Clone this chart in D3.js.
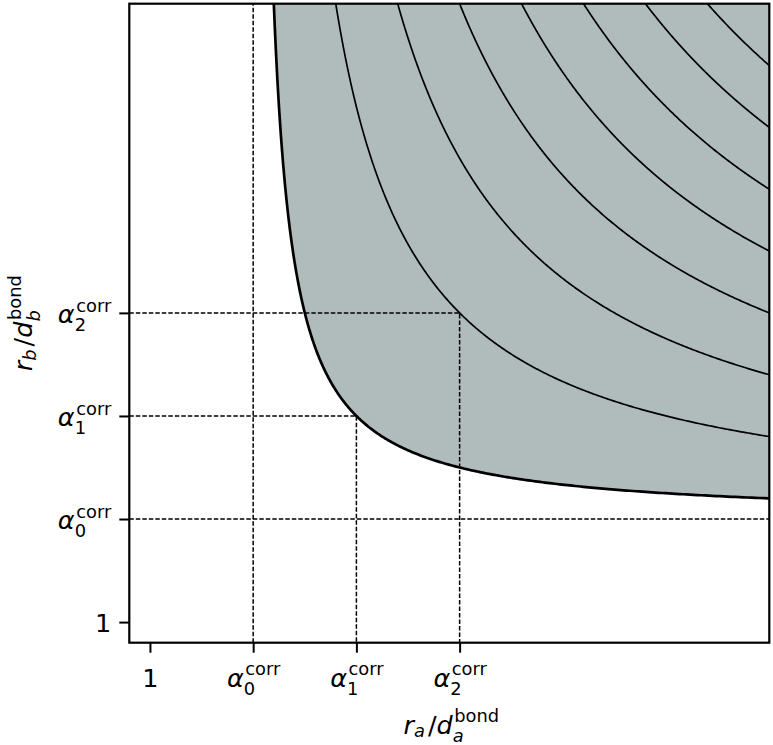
<!DOCTYPE html>
<html lang="en">
<head>
<meta charset="utf-8">
<title>Correction region</title>
<style>
body { margin: 0; background: #fff; }
text { font-family: "DejaVu Sans", sans-serif; fill: #000; text-anchor: start; }
.frame { fill: none; stroke: #000; stroke-width: 2.2; }
.axis line { stroke: #000; stroke-width: 2; }
.axis path { display: none; }
.guide { fill: none; stroke: #000; stroke-width: 1.5; stroke-dasharray: 4.5,2; }
.level { fill: none; stroke: #000; stroke-width: 1.7; }
.boundary { fill: none; stroke: #000; stroke-width: 2.7; }
.region { fill: #b0bcbb; stroke: none; }
</style>
</head>
<body>
<div id="chart"></div>
<script src="https://d3js.org/d3.v7.min.js"></script>
<script>
  // tick positions and labels (same on both axes)
  var tickValues = [1, 2, 3, 4];
  var tickSubs = [null, "0", "1", "2"];
  // alpha_k^corr values, alpha_0 is the asymptote
  var alphaCorr = [2, 3, 4];
  // (x - a0)(y - a0) = level ; first one is the boundary of the shaded region
  var boundaryLevel = 1;
  var contourLevels = [4, 7, 10, 13, 16, 19, 22];
  var domain = [0.8, 7];

  var W = 773, H = 745;
  var svg = d3.select("#chart").append("svg")
      .attr("width", W)
      .attr("height", H);

  var x = d3.scaleLinear().domain(domain).range([129.3, 769.3]);
  var y = d3.scaleLinear().domain(domain).range([642.7, 3.7]);

  svg.append("clipPath").attr("id", "clip")
    .append("rect")
      .attr("x", x(domain[0])).attr("y", y(domain[1]))
      .attr("width", x(domain[1]) - x(domain[0]))
      .attr("height", y(domain[0]) - y(domain[1]));

  var plot = svg.append("g").attr("clip-path", "url(#clip)");
  var a0 = alphaCorr[0];

  function hyperbola(c) {
    var x0 = a0 + c / (domain[1] + 0.2 - a0), x1 = domain[1] + 0.2;
    var l0 = Math.log(x0 - a0), l1 = Math.log(x1 - a0);
    return d3.range(0, 401).map(function(i) {
      var xx = a0 + Math.exp(l0 + (l1 - l0) * i / 400);
      return [xx, a0 + c / (xx - a0)];
    });
  }

  var line = d3.line()
      .x(function(d) { return x(d[0]); })
      .y(function(d) { return y(d[1]); });

  var bpts = hyperbola(boundaryLevel);
  plot.append("path")
      .attr("class", "region")
      .attr("d", line(bpts.concat([[domain[1] + 0.2, domain[1] + 0.2]])) + "Z");

  // dashed guides
  plot.append("line").attr("class", "guide")
      .attr("x1", x(a0)).attr("x2", x(a0)).attr("y1", y(domain[0])).attr("y2", y(domain[1]));
  plot.append("line").attr("class", "guide")
      .attr("x1", x(domain[0])).attr("x2", x(domain[1])).attr("y1", y(a0)).attr("y2", y(a0));
  alphaCorr.slice(1).forEach(function(a) {
    plot.append("path").attr("class", "guide")
        .attr("d", "M" + x(domain[0]) + "," + y(a) + "L" + x(a) + "," + y(a) + "L" + x(a) + "," + y(domain[0]));
  });

  plot.selectAll(".level")
      .data(contourLevels)
      .enter()
      .append("path")
      .attr("class", "level")
      .attr("d", function(c) { return line(hyperbola(c)); });

  plot.append("path")
      .attr("class", "boundary")
      .attr("d", line(bpts));

  svg.append("rect").attr("class", "frame")
      .attr("x", x(domain[0])).attr("y", y(domain[1]))
      .attr("width", x(domain[1]) - x(domain[0]))
      .attr("height", y(domain[0]) - y(domain[1]));

  // small mathtext-like renderer: base, subscript and superscript stacked
  var FS = 25.5;
  function drawMath(sel, items, fs, gap) {
    var g = sel.append("g");
    var cx = 0;
    items.forEach(function(it, k) {
      var b = g.append("text").attr("x", cx).attr("y", 0)
          .attr("font-size", fs)
          .attr("font-style", it.italic ? "italic" : "normal")
          .text(it.base);
      cx += b.node().getComputedTextLength();
      var w = 0;
      if (it.sub) {
        var s = g.append("text").attr("x", cx).attr("y", (it.sup ? 0.32 : 0.14) * fs)
            .attr("font-size", fs * 0.7)
            .attr("font-style", it.subItalic ? "italic" : "normal")
            .text(it.sub);
        w = Math.max(w, s.node().getComputedTextLength());
      }
      if (it.sup) {
        var off = it.italic ? fs * 0.06 : 0;
        var p = g.append("text").attr("x", cx + off).attr("y", -0.44 * fs)
            .attr("font-size", fs * 0.7)
            .text(it.sup);
        w = Math.max(w, p.node().getComputedTextLength() + off);
      }
      cx += w;
      if (w > 0 && k < items.length - 1) cx += gap || 0;
    });
    return { g: g, width: cx };
  }

  function tickItems(i) {
    if (tickSubs[i] === null) return [{ base: "1" }];
    return [{ base: "\u03b1", italic: true, sub: tickSubs[i], sup: "corr" }];
  }

  var xAxis = svg.append("g").attr("class", "axis")
      .attr("transform", "translate(0," + y(domain[0]) + ")")
      .call(d3.axisBottom(x).tickValues(tickValues).tickSize(10).tickFormat(""));
  xAxis.selectAll(".tick").each(function(d, i) {
    var m = drawMath(d3.select(this), tickItems(i), FS);
    m.g.attr("transform", "translate(" + (-m.width / 2) + ",44)");
  });

  var yAxis = svg.append("g").attr("class", "axis")
      .attr("transform", "translate(" + x(domain[0]) + ",0)")
      .call(d3.axisLeft(y).tickValues(tickValues).tickSize(10).tickFormat(""));
  yAxis.selectAll(".tick").each(function(d, i) {
    var m = drawMath(d3.select(this), tickItems(i), FS);
    m.g.attr("transform", "translate(" + (-18 - m.width) + ",9.5)");
  });

  function axisLabel(sub) {
    return [
      { base: "r", italic: true, sub: sub, subItalic: true },
      { base: "/" },
      { base: "d", italic: true, sub: sub, subItalic: true, sup: "bond" }
    ];
  }

  var xl = drawMath(svg.append("g").attr("transform", "translate(" + ((x(domain[0]) + x(domain[1])) / 2 + 2) + ",733.5)"),
      axisLabel("a"), FS, 3);
  xl.g.attr("transform", "translate(" + (-xl.width / 2) + ",0)");

  var yl = drawMath(svg.append("g").attr("transform", "translate(32," + ((y(domain[0]) + y(domain[1])) / 2) + ") rotate(-90)"),
      axisLabel("b"), FS, 3);
  yl.g.attr("transform", "translate(" + (-yl.width / 2) + ",0)");
</script>
</body>
</html>
